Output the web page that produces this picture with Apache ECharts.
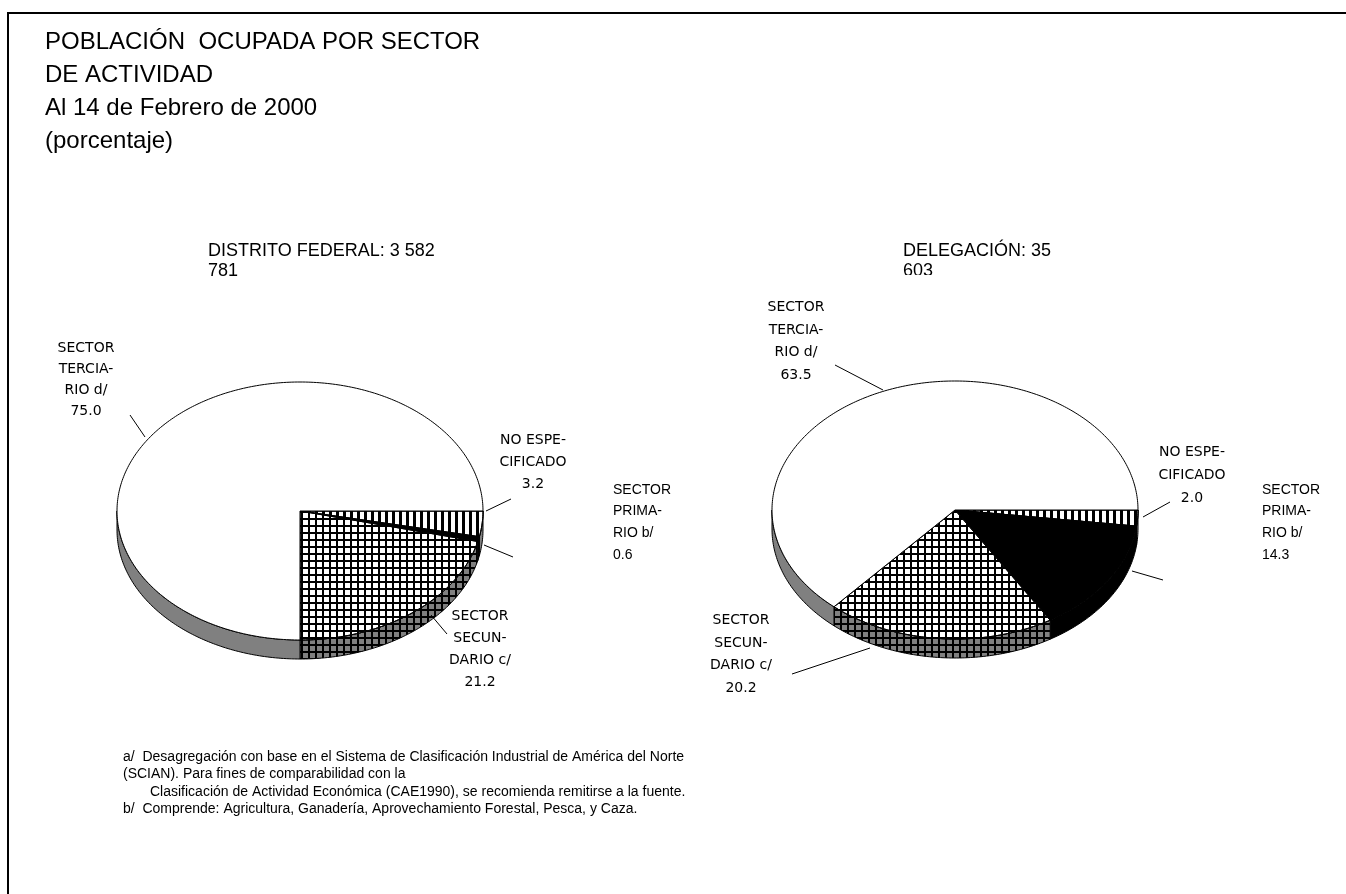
<!DOCTYPE html>
<html>
<head>
<meta charset="utf-8">
<script src="https://cdn.jsdelivr.net/npm/echarts/dist/echarts.min.js"></script>
<style>
  html, body { margin: 0; padding: 0; background: #fff; }
  #main { width: 1346px; height: 894px; }
</style>
</head>
<body>
<div id="main"></div>
<script>
// sectores en el orden en que se dibujan (a partir de las 3 en punto, sentido horario)
var sectores = ['NO ESPE-\nCIFICADO', 'SECTOR\nPRIMA-\nRIO b/', 'SECTOR\nSECUN-\nDARIO c/', 'SECTOR\nTERCIA-\nRIO d/'];
var distritoFederal = [3.2, 0.6, 21.2, 75.0];
var delegacion = [2.0, 14.3, 20.2, 63.5];
var totalDF = 'DISTRITO FEDERAL: 3 582\n781';
var totalDel = 'DELEGACIÓN: 35\n603';

var rellenos = ['rayas', 'negro', 'rejilla', 'blanco'];

function patron(tipo) {
    var c = document.createElement('canvas');
    c.width = 7;
    c.height = 7;
    var g = c.getContext('2d');
    g.fillStyle = '#000';
    if (tipo === 'rejilla') {
        g.fillRect(0, 0, 7, 2);
        g.fillRect(0, 0, 2, 7);
    } else {
        g.fillRect(0, 0, 3, 7);
    }
    return { image: c, repeat: 'repeat' };
}
var texturas = { rayas: patron('rayas'), rejilla: patron('rejilla') };

var RX = 183, RY = 129, ALTO = 19;
var pixel = '14px "DejaVu Sans"';
var arial = '14px Arial, "Liberation Sans"';

// ubicacion de rotulos: x, y superior, alineacion, fuente, interlinea, linea guia
var rotulosDF = [
    { x: 533, y: 429, al: 'center', f: pixel, lh: 22, guia: [486, 511, 511, 499] },
    { x: 613, y: 479, al: 'left', f: arial, lh: 21.7, guia: [484, 545, 513, 557] },
    { x: 480, y: 606, al: 'center', f: pixel, lh: 21.7, guia: [431, 615, 447, 634] },
    { x: 86, y: 338, al: 'center', f: pixel, lh: 21, guia: [145, 437, 130, 415] }
];
var rotulosDel = [
    { x: 1192, y: 441, al: 'center', f: pixel, lh: 23, guia: [1143, 517, 1170, 502] },
    { x: 1262, y: 479, al: 'left', f: arial, lh: 21.7, guia: [1132, 571, 1163, 580] },
    { x: 741, y: 609, al: 'center', f: pixel, lh: 22.7, guia: [870, 648, 792, 674] },
    { x: 796, y: 296, al: 'center', f: pixel, lh: 22.7, guia: [883, 390, 835, 365] }
];

function arco(cx, cy, a0, a1, dy) {
    var pts = [];
    var n = Math.max(2, Math.ceil((a1 - a0) / 0.015));
    for (var k = 0; k <= n; k++) {
        var a = a0 + (a1 - a0) * k / n;
        pts.push([cx + RX * Math.cos(a), cy + dy + RY * Math.sin(a)]);
    }
    return pts;
}

function porcion(valores, cx, cy, rotulos) {
    var total = valores.reduce(function (s, v) { return s + v; }, 0);
    return function (params, api) {
        var i = params.dataIndex;
        var previo = 0;
        for (var j = 0; j < i; j++) previo += valores[j];
        var a0 = previo / total * 2 * Math.PI;
        var a1 = (previo + api.value(0)) / total * 2 * Math.PI;
        var tipo = rellenos[i];
        var hijos = [];

        // costado, solo la mitad de enfrente
        var s = Math.max(a0, 0), e = Math.min(a1, Math.PI);
        if (e > s) {
            var lado = arco(cx, cy, s, e, 0).concat(arco(cx, cy, s, e, ALTO).reverse());
            hijos.push({ type: 'polygon', shape: { points: lado },
                style: { fill: tipo === 'negro' ? '#000' : '#808080', stroke: '#000', lineWidth: 1 } });
            if (texturas[tipo]) {
                hijos.push({ type: 'polygon', shape: { points: lado }, style: { fill: texturas[tipo] } });
            }
        }

        var cara = [[cx, cy]].concat(arco(cx, cy, a0, a1, 0));
        hijos.push({ type: 'polygon', shape: { points: cara },
            style: { fill: tipo === 'negro' ? '#000' : '#fff', stroke: '#000', lineWidth: 1 } });
        if (texturas[tipo]) {
            hijos.push({ type: 'polygon', shape: { points: cara }, style: { fill: texturas[tipo] } });
            hijos.push({ type: 'polygon', shape: { points: cara }, style: { fill: null, stroke: '#000', lineWidth: 1 } });
        }

        var r = rotulos[i];
        hijos.push({ type: 'line', shape: { x1: r.guia[0], y1: r.guia[1], x2: r.guia[2], y2: r.guia[3] },
            style: { stroke: '#000', lineWidth: 1 } });
        hijos.push({ type: 'text', style: {
            text: sectores[i] + '\n' + api.value(0).toFixed(1),
            x: r.x, y: r.y, font: r.f, fill: '#000',
            textAlign: r.al, textVerticalAlign: 'top', lineHeight: r.lh
        } });
        return { type: 'group', children: hijos };
    };
}

var chart = echarts.init(document.getElementById('main'));

var letra = { fontFamily: 'Arial, "Liberation Sans"', fontWeight: 'normal', color: '#000' };

var option = {
    backgroundColor: '#fff',
    animation: false,
    title: [
        { text: 'POBLACIÓN  OCUPADA POR SECTOR\nDE ACTIVIDAD\nAl 14 de Febrero de 2000\n(porcentaje)',
          left: 45, top: 25.5, padding: 0,
          textStyle: Object.assign({ fontSize: 24, lineHeight: 33 }, letra) },
        { text: totalDF, left: 208, top: 241, padding: 0,
          textStyle: Object.assign({ fontSize: 18, lineHeight: 20 }, letra) },
        { text: totalDel, left: 903, top: 241, padding: 0,
          textStyle: Object.assign({ fontSize: 18, lineHeight: 20 }, letra) },
        { text: 'a/  Desagregación con base en el Sistema de Clasificación Industrial de América del Norte\n(SCIAN). Para fines de comparabilidad con la',
          left: 123, top: 748, padding: 0,
          textStyle: Object.assign({ fontSize: 14, lineHeight: 17.5 }, letra) },
        { text: 'Clasificación de Actividad Económica (CAE1990), se recomienda remitirse a la fuente.',
          left: 150, top: 783, padding: 0,
          textStyle: Object.assign({ fontSize: 14, lineHeight: 17.5 }, letra) },
        { text: 'b/  Comprende: Agricultura, Ganadería, Aprovechamiento Forestal, Pesca, y Caza.',
          left: 123, top: 800.5, padding: 0,
          textStyle: Object.assign({ fontSize: 14, lineHeight: 17.5 }, letra) }
    ],
    graphic: [
        { type: 'rect', shape: { x: 8, y: 13, width: 1400, height: 1000 },
          style: { fill: null, stroke: '#000', lineWidth: 2 }, silent: true },
        // el total de la delegacion aparece recortado abajo
        { type: 'rect', shape: { x: 895, y: 275, width: 80, height: 14 },
          style: { fill: '#fff' }, z: 100, silent: true }
    ],
    series: [
        { type: 'custom', coordinateSystem: 'none', silent: true,
          data: distritoFederal, renderItem: porcion(distritoFederal, 300, 511, rotulosDF) },
        { type: 'custom', coordinateSystem: 'none', silent: true,
          data: delegacion, renderItem: porcion(delegacion, 955, 510, rotulosDel) }
    ]
};

chart.setOption(option);
</script>
</body>
</html>
